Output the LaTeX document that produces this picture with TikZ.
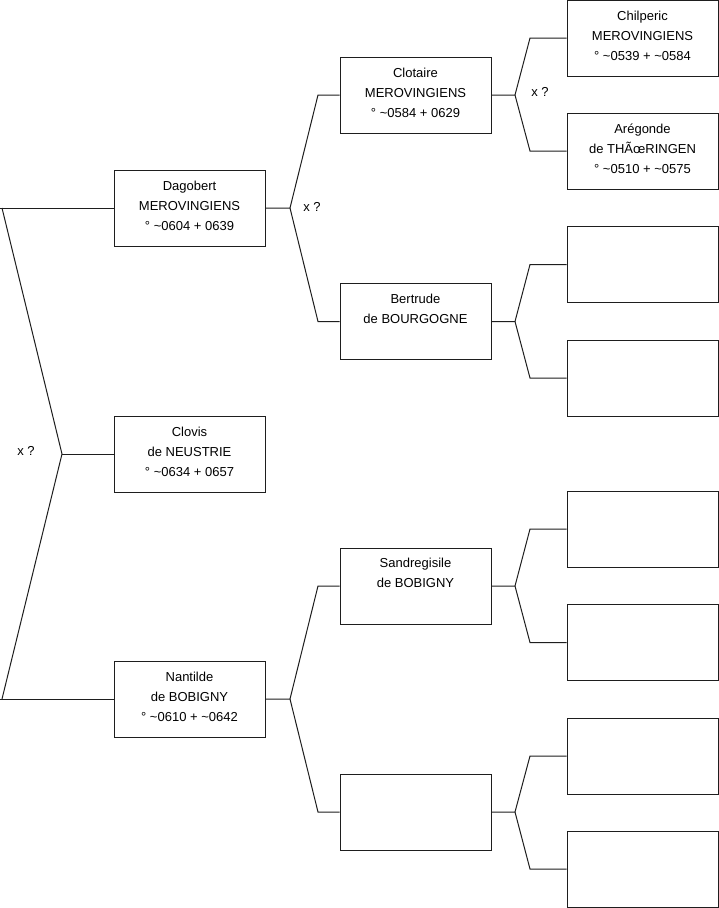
\documentclass[tikz,border=0pt]{standalone}
\usepackage{fontspec}
\setmainfont{Liberation Sans}
\definecolor{linec}{RGB}{30,30,30}
\begin{document}
\begin{tikzpicture}[x=1pt,y=-1pt,
  person/.style={draw=linec, line width=1pt, minimum width=151pt, minimum height=76pt, inner sep=0pt},
  lbl/.style={font=\fontsize{13}{20}\selectfont, align=center, inner sep=0pt, text=black},
  link/.style={draw=linec, line width=1pt}]
\useasboundingbox (0,0) rectangle (719,908);
\fill[white] (0,0) rectangle (719,908);
% level 1
\node[person, label={[lbl,anchor=north,yshift=-7pt]north:{\strut Dagobert\\MEROVINGIENS\\° \textasciitilde0604 + 0639}}] (dag) at (189.5,208) {};
\node[person, label={[lbl,anchor=north,yshift=-7pt]north:{\strut Clovis\\de NEUSTRIE\\° \textasciitilde0634 + 0657}}] (clo) at (189.5,454) {};
\node[person, label={[lbl,anchor=north,yshift=-7pt]north:{\strut Nantilde\\de BOBIGNY\\° \textasciitilde0610 + \textasciitilde0642}}] (nan) at (189.5,699) {};
% level 2
\node[person, label={[lbl,anchor=north,yshift=-7pt]north:{\strut Clotaire\\MEROVINGIENS\\° \textasciitilde0584 + 0629}}] (clot) at (415.5,95) {};
\node[person, label={[lbl,anchor=north,yshift=-6pt]north:{\strut Bertrude\\de BOURGOGNE}}] (bert) at (415.5,321.5) {};
\node[person, label={[lbl,anchor=north,yshift=-6pt]north:{\strut Sandregisile\\de BOBIGNY}}] (sand) at (415.5,586) {};
\node[person] (m4) at (415.5,812) {};
% level 3
\node[person, label={[lbl,anchor=north,yshift=-6.5pt]north:{\strut Chilperic\\MEROVINGIENS\\° \textasciitilde0539 + \textasciitilde0584}}] (chil) at (642.5,38) {};
\node[person, label={[lbl,anchor=north,yshift=-6.5pt]north:{\strut Arégonde\\de THÃ\char"0153 RINGEN\\° \textasciitilde0510 + \textasciitilde0575}}] (areg) at (642.5,151) {};
\node[person] (g3) at (642.5,264.5) {};
\node[person] (g4) at (642.5,378) {};
\node[person] (g5) at (642.5,529) {};
\node[person] (g6) at (642.5,642.5) {};
\node[person] (g7) at (642.5,756) {};
\node[person] (g8) at (642.5,869) {};
% marriage labels
\node[lbl] (x0) at (26,451) {x ?};
\node[lbl] (x1) at (312,207) {x ?};
\node[lbl] (x2) at (540,92) {x ?};
% root connectors
\coordinate (rt) at (0,208);
\coordinate (rk) at (2,208);
\coordinate (rm) at (62,454);
\coordinate (rb) at (2,699);
\coordinate (rb0) at (0,699);
\draw[link] (rt) -- (dag.west);
\draw[link] (rk) -- (rm) -- (rb);
\draw[link] (rm) -- (clo.west);
\draw[link] (rb0) -- (nan.west);
% level1 -> level2
\coordinate (fd) at (290,208);
\coordinate (fdu) at (318,95);
\coordinate (fdd) at (318,321.5);
\draw[link] (dag.east) -- (fd) -- (fdu) -- (clot.west);
\draw[link] (fd) -- (fdd) -- (bert.west);
\coordinate (fn) at (290,699);
\coordinate (fnu) at (318,586);
\coordinate (fnd) at (318,812);
\draw[link] (nan.east) -- (fn) -- (fnu) -- (sand.west);
\draw[link] (fn) -- (fnd) -- (m4.west);
% level2 -> level3
\coordinate (fc) at (515,95);
\coordinate (fcu) at (530,38);
\coordinate (fcd) at (530,151);
\draw[link] (clot.east) -- (fc) -- (fcu) -- (chil.west);
\draw[link] (fc) -- (fcd) -- (areg.west);
\coordinate (fb) at (515,321.5);
\coordinate (fbu) at (530,264.5);
\coordinate (fbd) at (530,378);
\draw[link] (bert.east) -- (fb) -- (fbu) -- (g3.west);
\draw[link] (fb) -- (fbd) -- (g4.west);
\coordinate (fs) at (515,586);
\coordinate (fsu) at (530,529);
\coordinate (fsd) at (530,642.5);
\draw[link] (sand.east) -- (fs) -- (fsu) -- (g5.west);
\draw[link] (fs) -- (fsd) -- (g6.west);
\coordinate (fm) at (515,812);
\coordinate (fmu) at (530,756);
\coordinate (fmd) at (530,869);
\draw[link] (m4.east) -- (fm) -- (fmu) -- (g7.west);
\draw[link] (fm) -- (fmd) -- (g8.west);
\end{tikzpicture}
\end{document}
